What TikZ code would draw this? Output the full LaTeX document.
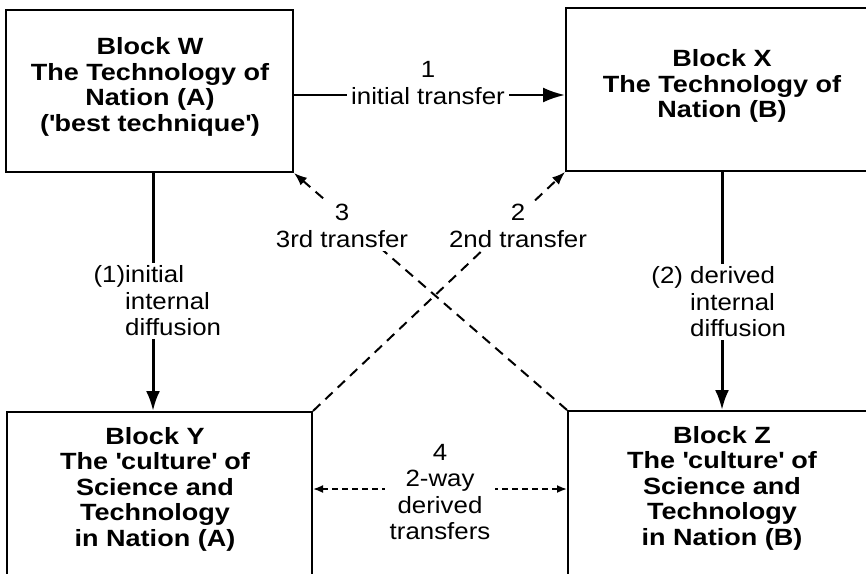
\documentclass[tikz,border=0pt]{standalone}
\usepackage{fontspec}
\setmainfont{Liberation Sans}[FakeStretch=1.1]
\newfontfamily\boxfont{Liberation Sans}[FakeStretch=1.15]
\usetikzlibrary{arrows.meta}
\newcommand\sq{\textquotesingle}
\begin{document}
\begin{tikzpicture}[x=1pt,y=-1pt,
  box/.style={draw, line width=2pt, inner sep=0pt},
  btext/.style={align=center, inner sep=0pt, font=\fontsize{23.5}{25.5}\boxfont\bfseries},
  lab/.style={align=center, fill=white, inner xsep=4pt, inner ysep=3pt, font=\fontsize{23.5}{26.5}\selectfont},
  solidarr/.style={line width=3pt, -{Latex[length=20pt,width=14pt]}},
  arrone/.style={line width=2.5pt, -{Latex[length=22pt,width=15pt]}},
  dasharr/.style={line width=2pt, dash pattern=on 10pt off 7pt, -{Latex[length=13pt,width=10pt]}},
  dashtwo/.style={line width=1.8pt, dash pattern=on 6pt off 4pt, {Latex[length=10pt,width=8pt]}-{Latex[length=10pt,width=8pt]}}]
\useasboundingbox (0,0) rectangle (866,573);
\clip (0,0) rectangle (866,573);

% boxes
\node[box, minimum width=287pt, minimum height=162pt] (W) at (149.5,91) {};
\node[box, minimum width=312pt, minimum height=163pt] (X) at (722,89.5) {};
\node[box, minimum width=305pt, minimum height=188pt] (Y) at (159.5,506) {};
\node[box, minimum width=312pt, minimum height=189pt] (Z) at (724,505.5) {};

% box texts
\node[btext] (tW) at (150,87) {Block W\\The Technology of\\Nation (A)\\(\sq best technique\sq)};
\node[btext] (tX) at (722,86) {Block X\\The Technology of\\Nation (B)};
\node[btext] (tY) at (155,489) {Block Y\\The \sq culture\sq{} of\\Science and\\Technology\\in Nation (A)};
\node[btext] (tZ) at (722,488) {Block Z\\The \sq culture\sq{} of\\Science and\\Technology\\in Nation (B)};

% helper coordinates
\coordinate (a1) at (0,95);
\coordinate (c1) at (153,0);
\coordinate (c2) at (722,0);
\coordinate (a4) at (0,489);

% connectors
\draw[arrone] (W.east |- a1) -- (X.west |- a1);
\draw[solidarr] (W.south -| c1) -- (Y.north -| c1);
\draw[solidarr] (X.south -| c2) -- (Z.north -| c2);
\draw[dasharr] (Y.north east) -- (X.south west);
\draw[dasharr] (Z.north west) -- (W.south east);
\draw[dashtwo] (Y.east |- a4) -- (Z.west |- a4);

% labels
\node[lab] (l1) at (428,83) {1\\initial transfer};
\node[lab] (l2) at (518,226) {2\\2nd transfer};
\node[lab] (l3) at (342,226) {3\\3rd transfer};
\node[lab, inner xsep=5pt] (l4) at (440,492) {4\\2-way\\derived\\transfers};
\node[lab, align=left, anchor=west] (l5) at (121,301) {\llap{(1)}initial\\internal\\diffusion};
\node[lab, align=left, anchor=west] (l6) at (686,302) {\llap{(2) }derived\\internal\\diffusion};
\end{tikzpicture}
\end{document}
